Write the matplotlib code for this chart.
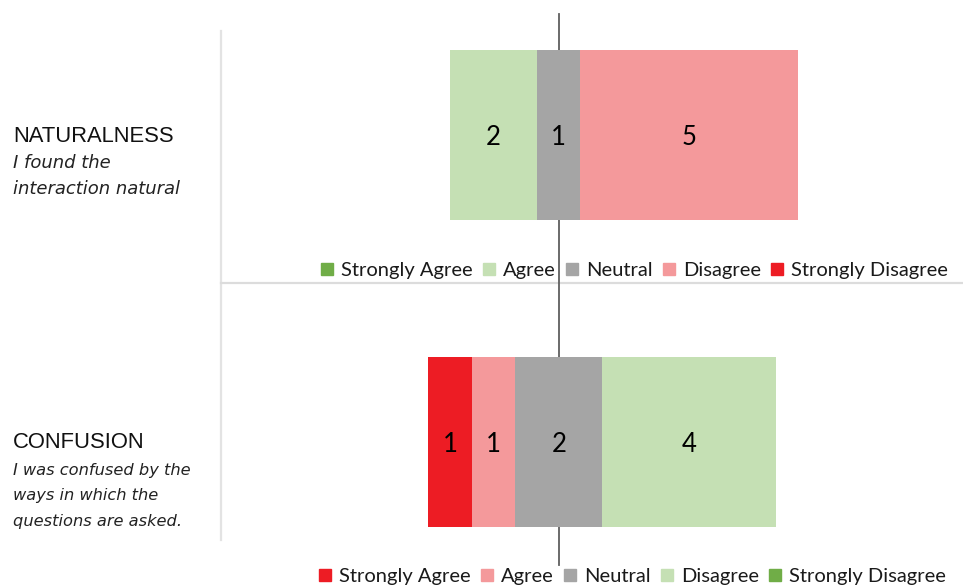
import numpy as np
import matplotlib
matplotlib.use('Agg')
import matplotlib.pyplot as plt
from matplotlib.lines import Line2D
from matplotlib.transforms import blended_transform_factory

# survey answers (count of participants)
naturalness_labels = ['Strongly Agree', 'Agree', 'Neutral', 'Disagree', 'Strongly Disagree']
naturalness_counts = [0, 2, 1, 5, 0]
naturalness_colors = ['#70ad47', '#c5e0b4', '#a5a5a5', '#f4999b', '#ed1c24']

confusion_labels = ['Strongly Agree', 'Agree', 'Neutral', 'Disagree', 'Strongly Disagree']
confusion_counts = [1, 1, 2, 4, 0]
confusion_colors = ['#ed1c24', '#f4999b', '#a5a5a5', '#c5e0b4', '#70ad47']

W, H = 963, 586
fig = plt.figure(figsize=(W / 100, H / 100), dpi=100)
ax = fig.add_axes([0, 0, 1, 1])
unit = 43.5
center = 558.7
ax.set_xlim(-center / unit, (W - center) / unit)
ax.set_ylim(H, 0)
ax.axis('off')

label_font = 'Lato'


def diverging_bar(counts, colors, yc, height):
    # centre the neutral block on zero
    left = -(counts[0] + counts[1] + counts[2] / 2.0)
    for c, col in zip(counts, colors):
        if c > 0:
            ax.barh(yc, c, left=left, height=height, color=col, zorder=2)
            ax.text(left + c / 2.0, yc + 3, str(c), ha='center', va='center',
                    fontsize=18.5, family=label_font, color='black', zorder=3)
        left += c


diverging_bar(naturalness_counts, naturalness_colors, 134.9, 170.3)
diverging_bar(confusion_counts, confusion_colors, 442.0, 170.6)

# centre line
ax.plot([0, 0], [14, 565], color='#5f5f5f', lw=1.3, zorder=1)

# separators
tr = blended_transform_factory(ax.transAxes, ax.transData)
ax.plot([221 / W, 221 / W], [31, 540], color='#e3e3e3', lw=1.6, transform=tr, zorder=0)
ax.plot([221 / W, 1.0], [283, 283], color='#dcdcdc', lw=1.6, transform=tr, zorder=0)

# question text on the left
xt = 13 / W
ax.text(xt, 142.3, 'NATURALNESS', transform=tr, fontsize=15.8,
        family='Liberation Sans', color='#111111', va='baseline')
ax.text(xt, 168, 'I found the', transform=tr, fontsize=13.0, style='italic',
        family='DejaVu Sans', color='#222222', va='baseline')
ax.text(xt, 193.5, 'interaction natural', transform=tr, fontsize=13.0, style='italic',
        family='DejaVu Sans', color='#222222', va='baseline')

ax.text(xt, 448.5, 'CONFUSION', transform=tr, fontsize=15.8,
        family='Liberation Sans', color='#111111', va='baseline')
for txt, yb in zip(['I was confused by the', 'ways in which the', 'questions are asked.'],
                   [475, 500, 526]):
    ax.text(xt, yb, txt, transform=tr, fontsize=11.7, style='italic',
            family='DejaVu Sans', color='#222222', va='baseline')


def make_legend(labels, colors, anchor):
    handles = [Line2D([], [], marker='s', ls='', markersize=8, color=c) for c in colors]
    leg = fig.legend(handles, labels, loc='center', bbox_to_anchor=anchor, ncol=5,
                     frameon=False, handlelength=0.7, handletextpad=0.35,
                     columnspacing=0.45, prop={'family': label_font, 'size': 14.5},
                     labelcolor='#1a1a1a', borderaxespad=0, borderpad=0)
    return leg


make_legend(naturalness_labels, naturalness_colors, (634 / W, 1 - 270 / H))
make_legend(confusion_labels, confusion_colors, (632 / W, 1 - 576 / H))

plt.savefig('out.png', dpi=100)
